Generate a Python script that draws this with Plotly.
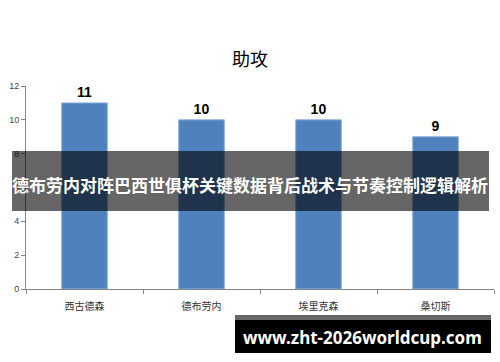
import plotly.graph_objects as go

players = ["西古德森", "德布劳内", "埃里克森", "桑切斯"]
assists = [11, 10, 10, 9]
y_ticks = [0, 2, 4, 6, 8, 10, 12]
chart_title = "助攻"
banner_text = "德布劳内对阵巴西世俱杯关键数据背后战术与节奏控制逻辑解析"
url_text = "www.zht-2026worldcup.com"

W, H = 500, 362
L, R, T, B = 26, 6, 86, 73
PW, PH = W - L - R, H - T - B

def px(x):
    return (x - L) / PW

def py(y):
    return (H - B - y) / PH

fig = go.Figure()
fig.add_trace(go.Bar(
    x=players, y=assists,
    marker=dict(color="#4F81BD", line=dict(color="#8EB1DC", width=1)),
    text=[str(v) for v in assists],
    textposition="outside",
    textfont=dict(family="Liberation Sans, Arial", size=14, color="#000000", weight="bold"),
    cliponaxis=False,
    width=0.39,
))

fig.update_layout(
    width=W, height=H,
    margin=dict(l=L, r=R, t=T, b=B),
    paper_bgcolor="white", plot_bgcolor="white",
    showlegend=False,
    font=dict(family="Noto Sans CJK SC"),
    title=dict(text=chart_title, x=0.5, xanchor="center", y=1 - 60 / H, yanchor="middle",
               font=dict(family="Noto Sans CJK SC", size=18, color="#000000")),
    xaxis=dict(showline=True, linecolor="#868686", linewidth=1, ticks="outside",
               tickson="boundaries", ticklen=4, tickcolor="#868686", showgrid=False,
               ticklabelstandoff=8,
               tickfont=dict(family="Noto Sans CJK SC", size=10, color="#333333")),
    yaxis=dict(range=[0, 12], tickvals=y_ticks, showline=True, linecolor="#868686",
               linewidth=1, ticks="outside", ticklen=4, tickcolor="#868686",
               showgrid=False, zeroline=False,
               tickfont=dict(family="Liberation Sans, Arial", size=9, color="#444444")),
    shapes=[
        dict(type="rect", xref="paper", yref="paper", x0=px(12), x1=px(489),
             y0=py(211), y1=py(151), fillcolor="rgba(0,0,0,0.6)", line=dict(width=0),
             layer="above"),
        dict(type="rect", xref="paper", yref="paper", x0=px(235), x1=px(491),
             y0=py(320), y1=py(315), fillcolor="#666666", line=dict(width=0),
             layer="above"),
        dict(type="rect", xref="paper", yref="paper", x0=px(235), x1=px(491),
             y0=py(353), y1=py(320), fillcolor="#000000", line=dict(width=0),
             layer="above"),
    ],
    annotations=[
        dict(text=banner_text, xref="paper", yref="paper", x=px(250), y=py(184),
             xanchor="center", yanchor="middle", showarrow=False,
             font=dict(family="Noto Sans CJK SC", size=17, color="white", weight="bold")),
        dict(text=url_text, xref="paper", yref="paper", x=px(362), y=py(337),
             xanchor="center", yanchor="middle", showarrow=False,
             font=dict(family="Noto Sans", size=17, color="white", weight="bold")),
    ],
)

fig.write_html("out.html")
